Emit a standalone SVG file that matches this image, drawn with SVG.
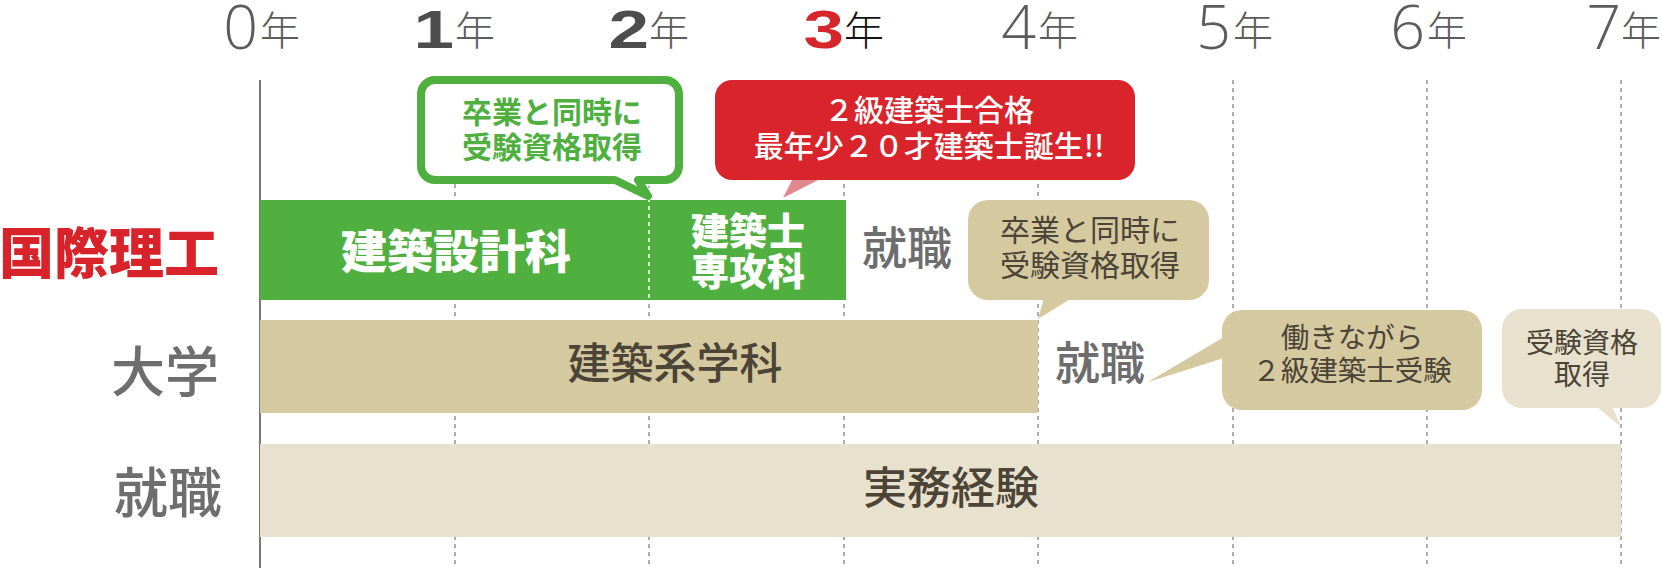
<svg xmlns="http://www.w3.org/2000/svg" width="1662" height="568" viewBox="0 0 1662 568">
<style>
.jp{font-family:"Noto Sans CJK JP","Noto Sans CJK SC",sans-serif}
.grid{stroke:#8c8c8c;stroke-width:1.4;stroke-dasharray:4 4;fill:none}
.thin{font-family:"Open Sans","Liberation Sans",sans-serif;font-weight:300;font-size:61px;fill:#5c5c5c;text-anchor:end}
.bold{font-family:"Liberation Sans",Arial,sans-serif;font-weight:700;font-size:54px;fill:#4d4d4d;text-anchor:end}
.nen{font-family:"Noto Sans CJK JP",sans-serif;font-weight:300;font-size:40px;fill:#5c5c5c}
.row{font-family:"Noto Sans CJK JP",sans-serif;font-size:54px;fill:#6e6e6e;font-weight:500;text-anchor:end}
.mid{text-anchor:middle}
.brown{fill:#4b4437}
.gray{fill:#6d6d6d}
.white{fill:#ffffff}
</style>
<rect width="1662" height="568" fill="#ffffff"/>
<g id="connectors">
  <line x1="260" y1="80" x2="260" y2="568" stroke="#555" stroke-width="1.6"/>
  <line class="grid" x1="455" y1="80" x2="455" y2="568"/>
  <line class="grid" x1="649" y1="80" x2="649" y2="568"/>
  <line class="grid" x1="844" y1="80" x2="844" y2="568"/>
  <line class="grid" x1="1038" y1="80" x2="1038" y2="568"/>
  <line class="grid" x1="1233" y1="80" x2="1233" y2="568"/>
  <line class="grid" x1="1427" y1="80" x2="1427" y2="568"/>
  <line class="grid" x1="1621" y1="80" x2="1621" y2="568"/>
</g>
<g id="years">
  <text class="thin" x="258" y="49">0</text><text class="nen" x="260" y="45">年</text>
  <text class="bold" transform="translate(454,48) scale(1.35,1)">1</text><text class="nen" x="455" y="45">年</text>
  <text class="bold" transform="translate(649,48) scale(1.35,1)">2</text><text class="nen" x="649" y="45">年</text>
  <text class="bold" transform="translate(844,48) scale(1.35,1)" style="fill:#d7262b">3</text><text class="nen" x="844" y="45" style="fill:#111">年</text>
  <text class="thin" x="1036" y="49">4</text><text class="nen" x="1038" y="45">年</text>
  <text class="thin" x="1231" y="49">5</text><text class="nen" x="1233" y="45">年</text>
  <text class="thin" x="1425" y="49">6</text><text class="nen" x="1427" y="45">年</text>
  <text class="thin" x="1621" y="49">7</text><text class="nen" x="1621" y="45">年</text>
</g>
<g id="row-labels">
  <text class="row" x="219" y="273" style="fill:#d9232a;font-weight:900;font-size:55px">国際理工</text>
  <text class="row" x="219" y="392">大学</text>
  <text class="row" x="222" y="513">就職</text>
</g>
<g id="bar-kokusai">
  <rect x="260" y="200" width="586" height="100" fill="#50b03f"/>
  <line x1="649" y1="182" x2="649" y2="300" stroke="#fff" stroke-width="1.6" stroke-dasharray="4 4"/>
  <text class="jp mid white" x="456" y="268" font-size="46" font-weight="900">建築設計科</text>
  <text class="jp mid white" x="748" y="245" font-size="38" font-weight="900">建築士</text>
  <text class="jp mid white" x="748" y="285" font-size="38" font-weight="900">専攻科</text>
</g>
<g id="job-1">
  <text class="jp mid gray" x="907" y="265" font-size="45" font-weight="500">就職</text>
</g>
<g id="bar-daigaku">
  <rect x="260" y="320" width="778" height="93" fill="#d5c9a0"/>
  <text class="jp mid brown" x="675" y="379" font-size="43" font-weight="500">建築系学科</text>
</g>
<g id="job-2">
  <text class="jp mid gray" x="1100" y="380" font-size="45" font-weight="500">就職</text>
</g>
<g id="bar-shushoku">
  <rect x="260" y="444" width="1361" height="93" fill="#e8e1cd"/>
  <text class="jp mid brown" x="951" y="504" font-size="44" font-weight="500">実務経験</text>
</g>
<g id="callout-green">
  <path d="M435,80 H665 A14,14 0 0 1 679,94 V166 A14,14 0 0 1 665,180 H638 L648,196 L615,180 H435 A14,14 0 0 1 421,166 V94 A14,14 0 0 1 435,80 Z" fill="#fff" stroke="#50b03f" stroke-width="8" stroke-linejoin="round"/>
  <text class="jp mid" x="552" y="123" font-size="30" font-weight="700" fill="#50b03f">卒業と同時に</text>
  <text class="jp mid" x="552" y="158" font-size="30" font-weight="700" fill="#50b03f">受験資格取得</text>
</g>
<g id="callout-red">
  <polygon points="793,178 822,178 783,198" fill="#e08a8f"/>
  <rect x="715" y="80" width="420" height="100" rx="17" fill="#d8242a"/>
  <text class="jp mid white" x="929" y="121" font-size="30" font-weight="500">２級建築士合格</text>
  <text class="jp mid white" x="929" y="157" font-size="30" font-weight="500">最年少２０才建築士誕生!!</text>
</g>
<g id="callout-beige-1">
  <polygon points="1044,298 1072,298 1038,319" fill="#d5c9a0"/>
  <rect x="968" y="200" width="241" height="100" rx="20" fill="#d5c9a0"/>
  <text class="jp mid brown" x="1090" y="241" font-size="30">卒業と同時に</text>
  <text class="jp mid brown" x="1090" y="276" font-size="30">受験資格取得</text>
</g>
<g id="callout-beige-2">
  <polygon points="1224,337 1224,358 1148,382" fill="#d5c9a0"/>
  <rect x="1222" y="310" width="260" height="100" rx="20" fill="#d5c9a0"/>
  <text class="jp mid brown" x="1352" y="348" font-size="28.5">働きながら</text>
  <text class="jp mid brown" x="1352" y="381" font-size="28.5">２級建築士受験</text>
</g>
<g id="callout-beige-3">
  <polygon points="1596,406 1612,406 1621,427" fill="#e8e1cd"/>
  <rect x="1502" y="309" width="159" height="99" rx="20" fill="#e8e1cd"/>
  <text class="jp mid brown" x="1582" y="353" font-size="28">受験資格</text>
  <text class="jp mid brown" x="1582" y="385" font-size="28">取得</text>
</g>
</svg>
